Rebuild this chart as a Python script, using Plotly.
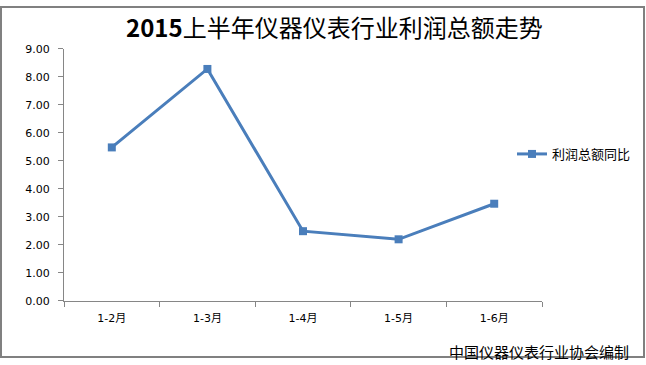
import plotly.graph_objects as go

W, H = 646, 365

categories = ["1-2月", "1-3月", "1-4月", "1-5月", "1-6月"]
profit_yoy = [5.48, 8.28, 2.49, 2.20, 3.47]
series_name = "利润总额同比"
title_text = "<b>2015</b>上半年仪器仪表行业利润总额走势"
footer_text = "中国仪器仪表行业协会编制"

def px_x(p):
    return p / W

def px_y(p):
    # vertical pixel position (from top) -> paper fraction
    q = (p - 7) / 0.958
    return 1 - q / H

axis_grey = "#868686"
line_blue = "#4A7EBB"
font_main = "DejaVu Sans, Noto Sans CJK SC, sans-serif"
font_cjk = "Noto Sans CJK SC, sans-serif"

fig = go.Figure()
fig.add_trace(go.Scatter(
    x=categories, y=profit_yoy, name=series_name,
    mode="lines+markers",
    line=dict(color=line_blue, width=3),
    marker=dict(symbol="square", size=8, color=line_blue),
    cliponaxis=False,
))

fig.update_layout(
    width=W, height=H,
    margin=dict(l=0, r=0, t=0, b=0),
    paper_bgcolor="white", plot_bgcolor="white",
    showlegend=True,
    legend=dict(
        x=px_x(512), y=px_y(154), xanchor="left", yanchor="middle",
        font=dict(family=font_cjk, size=13, color="#000"),
        itemwidth=30, bgcolor="rgba(0,0,0,0)",
    ),
    xaxis=dict(
        type="category", domain=[px_x(64), px_x(542)], range=[-0.5, 4.5],
        showline=True, linecolor=axis_grey, linewidth=1,
        ticks="outside", tickson="boundaries", ticklen=5, tickcolor=axis_grey,
        showgrid=False, zeroline=False,
        tickfont=dict(family=font_main, size=11, color="#000"),
        ticklabelstandoff=7,
    ),
    yaxis=dict(
        domain=[px_y(300), px_y(49.5)], range=[0, 9], dtick=1, tick0=0,
        tickformat=".2f",
        showline=True, linecolor=axis_grey, linewidth=1,
        ticks="outside", ticklen=5, tickcolor=axis_grey,
        showgrid=False, zeroline=False,
        tickfont=dict(family=font_main, size=11, color="#000"),
        ticklabelstandoff=6,
    ),
    annotations=[
        dict(text=title_text, x=px_x(334), y=px_y(27), xref="paper", yref="paper",
             xanchor="center", yanchor="middle", showarrow=False,
             font=dict(family=font_cjk, size=24, color="#000")),
        dict(text=footer_text, x=px_x(631), y=px_y(350.5), xref="paper", yref="paper",
             xanchor="right", yanchor="middle", showarrow=False,
             font=dict(family=font_cjk, size=15, color="#000")),
    ],
    shapes=[
        dict(type="rect", xref="paper", yref="paper",
             x0=px_x(1), x1=px_x(644), y0=0.003, y1=0.997,
             line=dict(color="#808080", width=2)),
    ],
)

fig.write_html("out.html")
